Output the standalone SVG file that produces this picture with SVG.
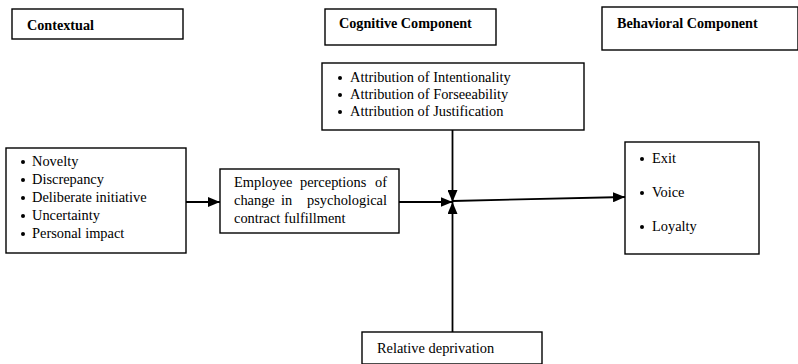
<svg xmlns="http://www.w3.org/2000/svg" width="798" height="364" viewBox="0 0 798 364">
  <style>
    .box { fill: #fff; stroke: #000; stroke-width: 1.4; }
    .txt { font-family: "Liberation Serif", "Times New Roman", serif; font-size: 14.4px; fill: #000; }
    .hdr { font-family: "Liberation Serif", "Times New Roman", serif; font-size: 14.2px; font-weight: bold; fill: #000; }
    .dot { fill: #000; }
    .wire { fill: none; stroke: #000; stroke-width: 1.8; }
  </style>
  <defs>
    <marker id="arrow" viewBox="0 0 12 10" refX="12" refY="5" markerWidth="12" markerHeight="10" markerUnits="userSpaceOnUse" orient="auto">
      <path d="M0,0 L12,5 L0,10 Z" fill="#000"/>
    </marker>
  </defs>

  <!-- headings -->
  <g id="contextual-heading">
    <rect class="box" x="12" y="9" width="171" height="30"/>
    <text class="hdr" x="27" y="30">Contextual</text>
  </g>
  <g id="cognitive-heading">
    <rect class="box" x="325" y="9" width="171" height="36"/>
    <text class="hdr" x="339" y="28">Cognitive Component</text>
  </g>
  <g id="behavioral-heading">
    <rect class="box" x="602" y="7" width="196" height="43"/>
    <text class="hdr" x="617" y="28">Behavioral Component</text>
  </g>

  <!-- attributions -->
  <g id="attributions">
    <rect class="box" x="322" y="63" width="262" height="67"/>
    <circle class="dot" cx="340" cy="78" r="2"/>
    <text class="txt" x="350" y="82">Attribution of Intentionality</text>
    <circle class="dot" cx="340" cy="95" r="2"/>
    <text class="txt" x="350" y="99">Attribution of Forseeability</text>
    <circle class="dot" cx="340" cy="112" r="2"/>
    <text class="txt" x="350" y="116">Attribution of Justification</text>
  </g>

  <!-- contextual factors -->
  <g id="contextual-factors">
    <rect class="box" x="6" y="148" width="180" height="105"/>
    <circle class="dot" cx="23" cy="162" r="2"/>
    <text class="txt" x="32" y="166">Novelty</text>
    <circle class="dot" cx="23" cy="180" r="2"/>
    <text class="txt" x="32" y="184">Discrepancy</text>
    <circle class="dot" cx="23" cy="198" r="2"/>
    <text class="txt" x="32" y="202">Deliberate initiative</text>
    <circle class="dot" cx="23" cy="216" r="2"/>
    <text class="txt" x="32" y="220">Uncertainty</text>
    <circle class="dot" cx="23" cy="234" r="2"/>
    <text class="txt" x="32" y="238">Personal impact</text>
  </g>

  <!-- perceptions (justified lines) -->
  <g id="perceptions">
    <rect class="box" x="220" y="169" width="179" height="64"/>
    <text class="txt" y="186.5"><tspan x="234">Employee</tspan><tspan x="300">perceptions</tspan></text>
    <text class="txt" x="387" y="186.5" text-anchor="end">of</text>
    <text class="txt" y="204.5"><tspan x="234">change</tspan><tspan x="281">in</tspan></text>
    <text class="txt" x="387" y="204.5" text-anchor="end">psychological</text>
    <text class="txt" x="234" y="222.5">contract fulfillment</text>
  </g>

  <!-- outcomes -->
  <g id="outcomes">
    <rect class="box" x="625" y="142" width="134" height="112"/>
    <circle class="dot" cx="642" cy="159" r="2"/>
    <text class="txt" x="652" y="163">Exit</text>
    <circle class="dot" cx="642" cy="193" r="2"/>
    <text class="txt" x="652" y="197">Voice</text>
    <circle class="dot" cx="642" cy="227" r="2"/>
    <text class="txt" x="652" y="231">Loyalty</text>
  </g>

  <!-- relative deprivation -->
  <g id="relative-deprivation">
    <rect class="box" x="362" y="332" width="180" height="32"/>
    <text class="txt" x="377" y="353">Relative deprivation</text>
  </g>

  <!-- connectors -->
  <g id="connectors">
    <line class="wire" x1="186" y1="202" x2="220" y2="202" marker-end="url(#arrow)"/>
    <line class="wire" x1="399" y1="202" x2="452.5" y2="202" marker-end="url(#arrow)"/>
    <line class="wire" x1="452.5" y1="130" x2="452.5" y2="202" marker-end="url(#arrow)"/>
    <line class="wire" x1="452.5" y1="332" x2="452.5" y2="202" marker-end="url(#arrow)"/>
    <line class="wire" x1="452.5" y1="201" x2="625" y2="197" marker-end="url(#arrow)"/>
  </g>
</svg>
